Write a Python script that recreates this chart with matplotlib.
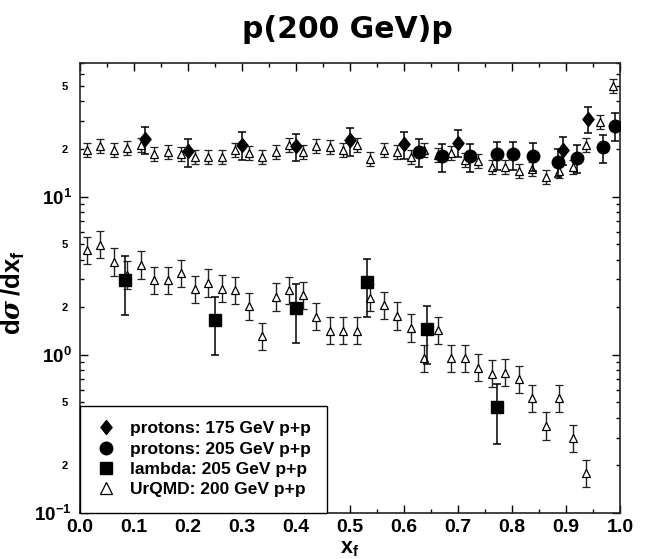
import numpy as np
import matplotlib
matplotlib.use("Agg")
import matplotlib.pyplot as plt
from matplotlib.ticker import LogLocator, FuncFormatter, MultipleLocator, LogFormatterSciNotation
from matplotlib.lines import Line2D

plt.rcParams['font.family'] = ['Liberation Sans', 'DejaVu Sans']
plt.rcParams['font.weight'] = 'bold'
plt.rcParams['axes.labelweight'] = 'bold'
plt.rcParams['mathtext.fontset'] = 'custom'
plt.rcParams['mathtext.rm'] = 'Liberation Sans:bold'
plt.rcParams['mathtext.bf'] = 'Liberation Sans:bold'
plt.rcParams['mathtext.it'] = 'DejaVu Serif:italic:bold'
plt.rcParams['mathtext.default'] = 'bf'

# UrQMD p+p 200 GeV: protons (upper) and lambdas (lower), bin centres
urqmd_x_p = [0.0125 + 0.025 * i for i in range(40)]
urqmd_p = [19.8, 20.8, 19.6, 20.4, 21.1, 18.5, 19.1, 18.5, 17.8, 17.8,
           17.8, 19.6, 18.9, 17.8, 19.2, 21.1, 19.2, 20.8, 20.5, 19.8,
           21.2, 17.2, 19.6, 19.2, 17.8, 19.8, 18.3, 18.9, 17.1, 16.8,
           15.4, 15.3, 14.5, 15.0, 13.3, 14.5, 15.3, 21.1, 29.6, 49.8]
urqmd_x_l = [0.0125 + 0.025 * i for i in range(38)]
urqmd_l = [4.58, 4.98, 3.87, 3.2, 3.69, 2.96, 2.96, 3.27, 2.60, 2.85,
           2.62, 2.56, 2.03, 1.31, 2.32, 2.56, 2.38, 1.74, 1.42, 1.42,
           1.42, 2.30, 2.06, 1.76, 1.48, 0.95, 1.43, 0.95, 0.95, 0.83,
           0.76, 0.77, 0.70, 0.53, 0.355, 0.53, 0.296, 0.178]
urqmd_rel_err_p = 0.107
urqmd_rel_err_l = 0.22

# protons: 175 GeV p+p
p175_x = [0.120, 0.200, 0.300, 0.400, 0.500, 0.600, 0.700, 0.895, 0.940]
p175_y = [23.1, 19.4, 21.3, 20.8, 22.7, 21.6, 22.0, 19.8, 31.1]
p175_err = [4.5, 3.9, 4.2, 4.0, 4.5, 4.2, 4.3, 3.9, 6.0]

# protons: 205 GeV p+p
p205_x = [0.628, 0.670, 0.722, 0.772, 0.802, 0.838, 0.885, 0.920, 0.968, 0.991]
p205_y = [19.2, 18.0, 18.0, 18.5, 18.5, 18.2, 16.6, 17.6, 20.5, 28.0]
p205_err = [3.9, 3.6, 3.6, 3.7, 3.7, 3.6, 3.3, 3.5, 4.1, 5.6]

# lambda: 205 GeV p+p
lam_x = [0.084, 0.250, 0.400, 0.531, 0.642, 0.773]
lam_y = [2.99, 1.66, 1.99, 2.89, 1.45, 0.465]
lam_err = [1.2, 0.66, 0.80, 1.15, 0.58, 0.19]

fig = plt.figure(figsize=(6.5, 5.59), dpi=100)
ax = fig.add_axes([80/650, 1 - 513/559, 540/650, 450/559])

def log_err(vals, f):
    v = np.asarray(vals)
    return np.vstack([v - v / (1 + f), v * f])

for xs, ys, f in [(urqmd_x_p, urqmd_p, urqmd_rel_err_p), (urqmd_x_l, urqmd_l, urqmd_rel_err_l)]:
    ax.errorbar(xs, ys, yerr=log_err(ys, f), fmt='^', ms=5.5, mfc='white', mec='black',
                mew=0.9, ecolor='#222222', elinewidth=1.0, capsize=3.2, capthick=1.0, zorder=2)

diamond = [(0, 1), (0.8, 0), (0, -1), (-0.8, 0), (0, 1)]
ax.errorbar(p175_x, p175_y, yerr=p175_err, fmt='none', ecolor='black', elinewidth=1.1,
            capsize=3.2, capthick=1.1, zorder=3)
ax.plot(p175_x, p175_y, linestyle='none', marker=diamond, ms=10, color='black', zorder=4)
ax.errorbar(p205_x, p205_y, yerr=p205_err, fmt='o', ms=9, color='black', ecolor='black',
            elinewidth=1.1, capsize=3.2, capthick=1.1, zorder=3)
ax.errorbar(lam_x, lam_y, yerr=lam_err, fmt='s', ms=9, color='black', ecolor='black',
            elinewidth=1.1, capsize=3.2, capthick=1.1, zorder=3)

ax.set_yscale('log')
ax.set_xlim(0, 1)
ax.set_ylim(0.1, 70)

ax.xaxis.set_major_locator(MultipleLocator(0.1))
ax.xaxis.set_minor_locator(MultipleLocator(0.05))
ax.xaxis.set_major_formatter(FuncFormatter(lambda v, p: f"{v:.1f}"))
ax.yaxis.set_major_locator(LogLocator(base=10, numticks=10))
ax.yaxis.set_minor_locator(LogLocator(base=10, subs=np.arange(2, 10), numticks=10))
ax.yaxis.set_major_formatter(LogFormatterSciNotation())

def minor_fmt(v, p):
    m = v / 10 ** np.floor(np.log10(v) + 1e-9)
    if abs(m - 2) < 0.01:
        return '2'
    if abs(m - 5) < 0.01:
        return '5'
    return ''
ax.yaxis.set_minor_formatter(FuncFormatter(minor_fmt))

ax.tick_params(which='both', direction='in', top=True, right=True, color='black')
ax.tick_params(which='major', length=6, width=1)
ax.tick_params(which='minor', length=3, width=1)
ax.tick_params(axis='x', which='major', labelsize=14, pad=4)
ax.tick_params(axis='y', which='major', labelsize=13.5, pad=6)
ax.tick_params(axis='y', which='minor', labelsize=8, pad=9)
for lab in ax.get_xticklabels() + ax.get_yticklabels() + ax.get_yticklabels(minor=True):
    lab.set_fontweight('bold')
for s in ax.spines.values():
    s.set_linewidth(1.2)
    s.set_color('#222222')

ax.set_xlabel(r'$\mathbf{x_f}$', fontsize=15.5)
ax.xaxis.set_label_coords(0.5, (513 - 553) / 450)
ax.xaxis.label.set_va('baseline')
ax.set_ylabel(r'$\mathbf{d}\mathit{\sigma}\,\mathbf{/dx_f}$', fontsize=18.5)
ax.yaxis.set_label_coords(-(80 - 27) / 540, 0.49)
fig.text(0.535, 1 - 30/559, 'p(200 GeV)p', ha='center', va='center', fontsize=21.5,
         fontweight='bold', family='DejaVu Sans')

handles = [
    Line2D([], [], linestyle='none', marker=diamond, ms=10, color='black'),
    Line2D([], [], linestyle='none', marker='o', ms=9, color='black'),
    Line2D([], [], linestyle='none', marker='s', ms=9, color='black'),
    Line2D([], [], linestyle='none', marker='^', ms=9, mfc='white', mec='black', mew=0.9),
]
labels = ['protons: 175 GeV p+p', 'protons: 205 GeV p+p', 'lambda: 205 GeV p+p',
          'UrQMD: 200 GeV p+p']
leg = ax.legend(handles, labels, loc='lower left', bbox_to_anchor=(0, 0), borderaxespad=0,
                frameon=True, fancybox=False, edgecolor='black', framealpha=1,
                prop={'family': 'Liberation Sans', 'weight': 'bold', 'size': 12.5},
                handlelength=1.2, handletextpad=0.8, labelspacing=0.3, borderpad=0.9)
leg.get_frame().set_linewidth(1.0)

fig.savefig('out.png', dpi=100)
